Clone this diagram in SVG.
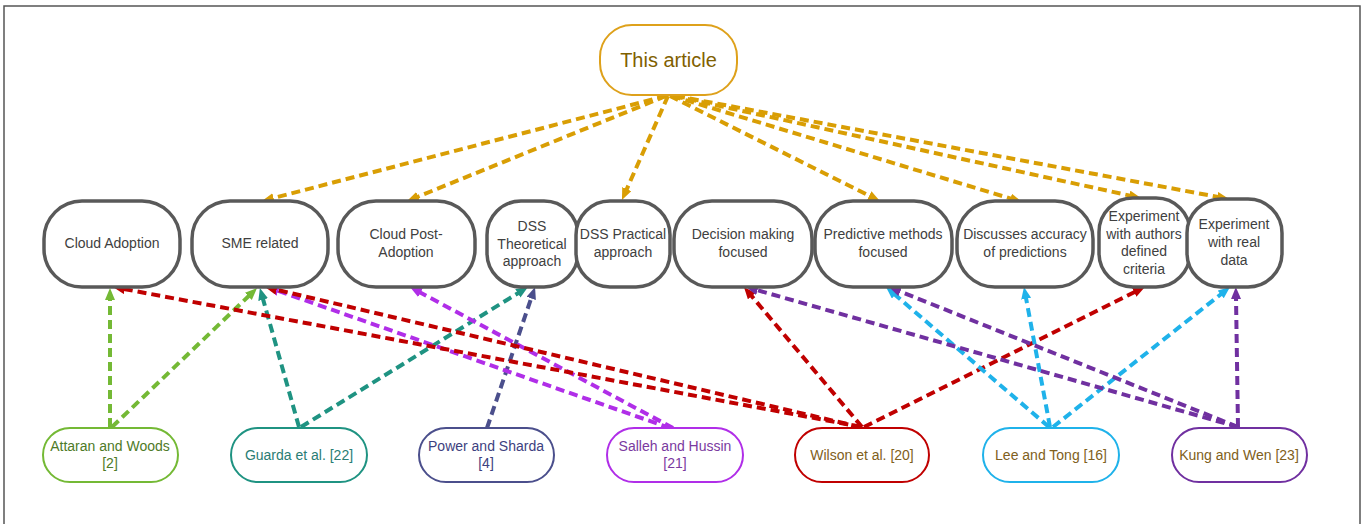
<svg xmlns="http://www.w3.org/2000/svg" width="1364" height="524" viewBox="0 0 1364 524">
  <style>
    text { font-family: "Liberation Sans", Arial, sans-serif; text-anchor: middle; dominant-baseline: central; }
    .topic rect { fill: #fff; stroke: #595959; stroke-width: 3.5; }
    .topic text { font-size: 14px; fill: #404040; }
    .src rect { fill: #fff; stroke-width: 2; }
    .src text { font-size: 14px; }
    .edge { fill: none; stroke-width: 4; stroke-dasharray: 9 5; }
  </style>
  <defs>
    <marker id="ah-gold" markerUnits="userSpaceOnUse" markerWidth="14" markerHeight="12" refX="2" refY="5" orient="auto"><path d="M0,0 L12,5 L0,10 z" fill="#d99e04"/></marker>
    <marker id="ah-green" markerUnits="userSpaceOnUse" markerWidth="14" markerHeight="12" refX="2" refY="5" orient="auto"><path d="M0,0 L12,5 L0,10 z" fill="#74b935"/></marker>
    <marker id="ah-teal" markerUnits="userSpaceOnUse" markerWidth="14" markerHeight="12" refX="2" refY="5" orient="auto"><path d="M0,0 L12,5 L0,10 z" fill="#1f9382"/></marker>
    <marker id="ah-slate" markerUnits="userSpaceOnUse" markerWidth="14" markerHeight="12" refX="2" refY="5" orient="auto"><path d="M0,0 L12,5 L0,10 z" fill="#4b4f8c"/></marker>
    <marker id="ah-magenta" markerUnits="userSpaceOnUse" markerWidth="14" markerHeight="12" refX="2" refY="5" orient="auto"><path d="M0,0 L12,5 L0,10 z" fill="#b02ee8"/></marker>
    <marker id="ah-red" markerUnits="userSpaceOnUse" markerWidth="14" markerHeight="12" refX="2" refY="5" orient="auto"><path d="M0,0 L12,5 L0,10 z" fill="#c00000"/></marker>
    <marker id="ah-sky" markerUnits="userSpaceOnUse" markerWidth="14" markerHeight="12" refX="2" refY="5" orient="auto"><path d="M0,0 L12,5 L0,10 z" fill="#1fb2ea"/></marker>
    <marker id="ah-purple" markerUnits="userSpaceOnUse" markerWidth="14" markerHeight="12" refX="2" refY="5" orient="auto"><path d="M0,0 L12,5 L0,10 z" fill="#7030a0"/></marker>
  </defs>

  <rect x="0" y="0" width="1364" height="524" fill="#fff"/>
  <!-- outer frame -->
  <rect x="4" y="6" width="1356" height="530" fill="none" stroke="#555" stroke-width="1.5"/>

  <!-- connectors -->
  <g id="connectors">
    <!-- This article -> topics -->
    <g stroke="#d99e04" marker-end="url(#ah-gold)">
      <line class="edge" x1="666" y1="96" x2="271.7" y2="198.5"/>
      <line class="edge" x1="666" y1="96" x2="416.3" y2="197.3"/>
      <line class="edge" x1="668" y1="96" x2="626" y2="190.9"/>
      <line class="edge" x1="670" y1="96" x2="871" y2="196.6"/>
      <line class="edge" x1="672" y1="96" x2="1012.4" y2="199.1"/>
      <line class="edge" x1="674" y1="96" x2="1131.2" y2="195.9"/>
      <line class="edge" x1="676" y1="96" x2="1219.2" y2="197.2"/>
    </g>
    <!-- Attaran and Woods -->
    <g stroke="#74b935" marker-end="url(#ah-green)">
      <line class="edge" x1="110" y1="427" x2="110" y2="298"/>
      <line class="edge" x1="112" y1="427" x2="249.8" y2="295"/>
    </g>
    <!-- Guarda et al. -->
    <g stroke="#1f9382" marker-end="url(#ah-teal)">
      <line class="edge" x1="299" y1="427" x2="262.6" y2="297.6"/>
      <line class="edge" x1="301" y1="427" x2="519.5" y2="292.2"/>
    </g>
    <!-- Power and Sharda -->
    <g stroke="#4b4f8c" marker-end="url(#ah-slate)">
      <line class="edge" x1="487" y1="428" x2="531.8" y2="296.5"/>
    </g>
    <!-- Salleh and Hussin -->
    <g stroke="#b02ee8" marker-end="url(#ah-magenta)">
      <line class="edge" x1="673" y1="428" x2="418.8" y2="291.7"/>
      <line class="edge" x1="670" y1="428" x2="276.4" y2="290.3"/>
    </g>
    <!-- Wilson et al. -->
    <g stroke="#c00000" marker-end="url(#ah-red)">
      <line class="edge" x1="862" y1="427" x2="122.8" y2="288.8"/>
      <line class="edge" x1="860" y1="427" x2="274.7" y2="289.3"/>
      <line class="edge" x1="862" y1="427" x2="750.4" y2="294.6"/>
      <line class="edge" x1="864" y1="427" x2="1136" y2="291.4"/>
    </g>
    <!-- Lee and Tong -->
    <g stroke="#1fb2ea" marker-end="url(#ah-sky)">
      <line class="edge" x1="1049" y1="427" x2="893.6" y2="293.5"/>
      <line class="edge" x1="1050" y1="427" x2="1025.8" y2="296.8"/>
      <line class="edge" x1="1053" y1="427" x2="1222.2" y2="293.2"/>
    </g>
    <!-- Kung and Wen -->
    <g stroke="#7030a0" marker-end="url(#ah-purple)">
      <line class="edge" x1="1238" y1="427" x2="755.6" y2="289.7"/>
      <line class="edge" x1="1238" y1="427" x2="898.3" y2="290.7"/>
      <line class="edge" x1="1238" y1="427" x2="1236" y2="297"/>
    </g>
  </g>

  <!-- root node -->
  <g id="this-article">
    <rect x="600" y="25" width="137" height="70" rx="32" ry="32" fill="#fff" stroke="#dea11b" stroke-width="2"/>
    <text x="668.5" y="60" font-size="20" fill="#7f6000">This article</text>
  </g>

  <!-- topic nodes -->
  <g id="cloud-adoption" class="topic">
    <rect x="44" y="201" width="136" height="86" rx="38"/>
    <text x="112" y="243">Cloud Adoption</text>
  </g>
  <g id="sme-related" class="topic">
    <rect x="192" y="201" width="136" height="86" rx="38"/>
    <text x="260" y="243">SME related</text>
  </g>
  <g id="cloud-post-adoption" class="topic">
    <rect x="338" y="201" width="137" height="86" rx="38"/>
    <text x="406" y="234">Cloud Post-</text>
    <text x="406" y="252">Adoption</text>
  </g>
  <g id="dss-theoretical" class="topic">
    <rect x="487" y="201" width="91" height="86" rx="34"/>
    <text x="532" y="226">DSS</text>
    <text x="532" y="244">Theoretical</text>
    <text x="532" y="261">approach</text>
  </g>
  <g id="dss-practical" class="topic">
    <rect x="576" y="201" width="94" height="86" rx="34"/>
    <text x="623" y="234">DSS Practical</text>
    <text x="623" y="252">approach</text>
  </g>
  <g id="decision-making" class="topic">
    <rect x="674" y="201" width="138" height="86" rx="38"/>
    <text x="743" y="234">Decision making</text>
    <text x="743" y="252">focused</text>
  </g>
  <g id="predictive-methods" class="topic">
    <rect x="815" y="201" width="137" height="86" rx="38"/>
    <text x="883" y="234">Predictive methods</text>
    <text x="883" y="252">focused</text>
  </g>
  <g id="discusses-accuracy" class="topic">
    <rect x="957" y="201" width="136" height="86" rx="38"/>
    <text x="1025" y="234">Discusses accuracy</text>
    <text x="1025" y="252">of predictions</text>
  </g>
  <g id="experiment-authors" class="topic">
    <rect x="1099" y="198" width="91" height="89" rx="34"/>
    <text x="1144" y="216">Experiment</text>
    <text x="1144" y="234">with authors</text>
    <text x="1144" y="251">defined</text>
    <text x="1144" y="269">criteria</text>
  </g>
  <g id="experiment-real-data" class="topic">
    <rect x="1187" y="199" width="95" height="88" rx="34"/>
    <text x="1234" y="224">Experiment</text>
    <text x="1234" y="242">with real</text>
    <text x="1234" y="260">data</text>
  </g>

  <!-- source nodes -->
  <g id="attaran-woods" class="src">
    <rect x="43" y="428" width="135" height="54" rx="27" stroke="#74b935"/>
    <text x="110" y="446" fill="#4e7a27">Attaran and Woods</text>
    <text x="110" y="463" fill="#4e7a27">[2]</text>
  </g>
  <g id="guarda" class="src">
    <rect x="231" y="428" width="136" height="54" rx="27" stroke="#1f9382"/>
    <text x="299" y="455" fill="#2a7d74">Guarda et al. [22]</text>
  </g>
  <g id="power-sharda" class="src">
    <rect x="419" y="428" width="135" height="54" rx="27" stroke="#4b4f8c"/>
    <text x="486" y="446" fill="#3d4180">Power and Sharda</text>
    <text x="486" y="463" fill="#3d4180">[4]</text>
  </g>
  <g id="salleh-hussin" class="src">
    <rect x="607" y="428" width="136" height="54" rx="27" stroke="#b02ee8"/>
    <text x="675" y="446" fill="#7a3aa0">Salleh and Hussin</text>
    <text x="675" y="463" fill="#7a3aa0">[21]</text>
  </g>
  <g id="wilson" class="src">
    <rect x="795" y="428" width="134" height="54" rx="27" stroke="#c00000"/>
    <text x="862" y="455" fill="#806020">Wilson et al. [20]</text>
  </g>
  <g id="lee-tong" class="src">
    <rect x="983" y="428" width="136" height="54" rx="27" stroke="#1fb2ea"/>
    <text x="1051" y="455" fill="#806020">Lee and Tong [16]</text>
  </g>
  <g id="kung-wen" class="src">
    <rect x="1172" y="428" width="135" height="54" rx="27" stroke="#7030a0"/>
    <text x="1239" y="455" fill="#806020">Kung and Wen [23]</text>
  </g>
</svg>
